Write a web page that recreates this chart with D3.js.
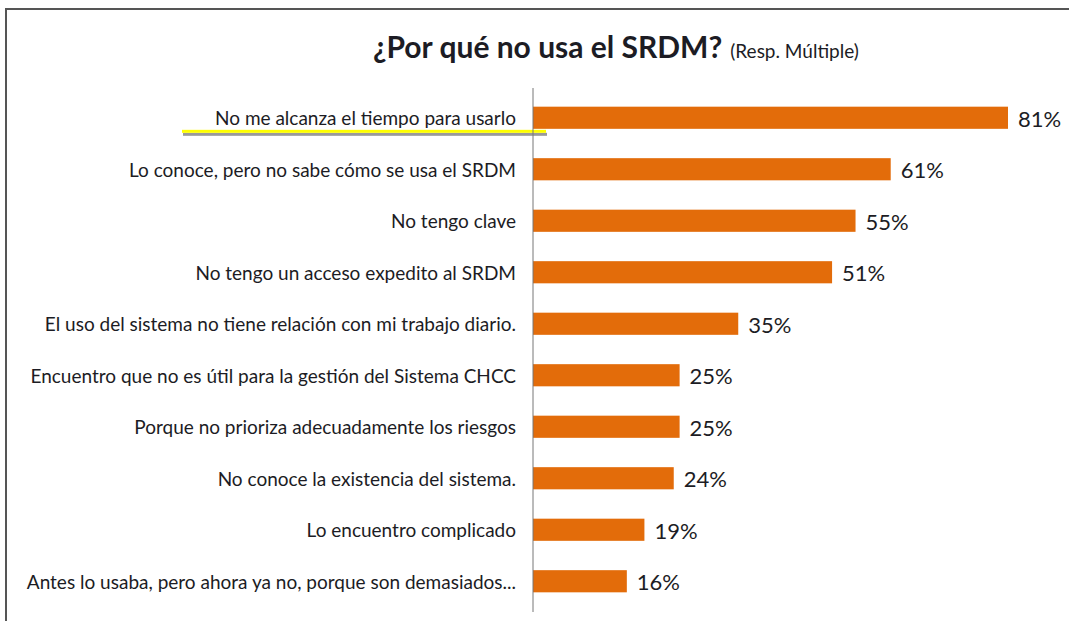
<!DOCTYPE html>
<html lang="es">
<head>
<meta charset="UTF-8">
<title>¿Por qué no usa el SRDM?</title>
<style>
  body { margin: 0; background: #fff; }
  svg { display: block; }
  text { font-family: Lato, "Noto Sans", sans-serif; fill: #1c1c24; }
</style>
</head>
<body>
<svg id="chart" width="1069" height="621"></svg>
<script src="https://d3js.org/d3.v7.min.js"></script>
<script>
// answers (multiple response), percent
const categories = [
  "No me alcanza el tiempo para usarlo",
  "Lo conoce, pero no sabe cómo se usa el SRDM",
  "No tengo clave",
  "No tengo un acceso expedito al SRDM",
  "El uso del sistema no tiene relación con mi trabajo diario.",
  "Encuentro que no es útil para la gestión del Sistema CHCC",
  "Porque no prioriza adecuadamente los riesgos",
  "No conoce la existencia del sistema.",
  "Lo encuentro complicado",
  "Antes lo usaba, pero ahora ya no, porque son demasiados..."
];
const values = [81, 61, 55, 51, 35, 25, 25, 24, 19, 16];

const svg = d3.select("#chart");

// frame (top + left border)
svg.append("path")
  .attr("d", "M6,621 V9 H1069")
  .attr("fill", "none")
  .attr("stroke", "#555")
  .attr("stroke-width", 2);

// title
const title = svg.append("text")
  .attr("x", 373)
  .attr("y", 58);
title.append("tspan")
  .attr("font-weight", "bold")
  .attr("font-size", 30)
  .text("¿Por qué no usa el SRDM?");
title.append("tspan")
  .attr("font-size", 19)
  .attr("dx", 8)
  .text("(Resp. Múltiple)");

const x = d3.scaleLinear().domain([0, 81]).range([533, 1008]);
const y = d3.scaleBand().domain(categories).range([92, 607]).paddingInner(0.57).paddingOuter(0.285);

// highlight under the first label
const first = y(categories[0]) + y.bandwidth() + 1;
svg.append("rect")
  .attr("x", 183).attr("y", first + 3)
  .attr("width", 364).attr("height", 3)
  .attr("fill", "#9a9a9a");
svg.append("rect")
  .attr("x", 182).attr("y", first)
  .attr("width", 364).attr("height", 3)
  .attr("fill", "#ffff00");

// bars
svg.selectAll("rect.bar")
  .data(values)
  .join("rect")
  .attr("class", "bar")
  .attr("x", x(0))
  .attr("y", (d, i) => y(categories[i]))
  .attr("width", d => x(d) - x(0))
  .attr("height", y.bandwidth())
  .attr("fill", "#e36c0a");

// axis line
svg.append("line")
  .attr("x1", x(0)).attr("x2", x(0))
  .attr("y1", 88).attr("y2", 612)
  .attr("stroke", "#777")
  .attr("stroke-width", 1);

// category labels
svg.selectAll("text.cat")
  .data(categories)
  .join("text")
  .attr("class", "cat")
  .attr("x", 516)
  .attr("y", d => y(d) + y.bandwidth() / 2)
  .attr("dy", "0.4em")
  .attr("text-anchor", "end")
  .attr("font-size", 19)
  .text(d => d);

// value labels
svg.selectAll("text.val")
  .data(values)
  .join("text")
  .attr("class", "val")
  .attr("x", d => x(d) + 10)
  .attr("y", (d, i) => y(categories[i]) + y.bandwidth() / 2)
  .attr("dy", "0.4em")
  .attr("font-size", 22)
  .text(d => d + "%");
</script>
</body>
</html>
